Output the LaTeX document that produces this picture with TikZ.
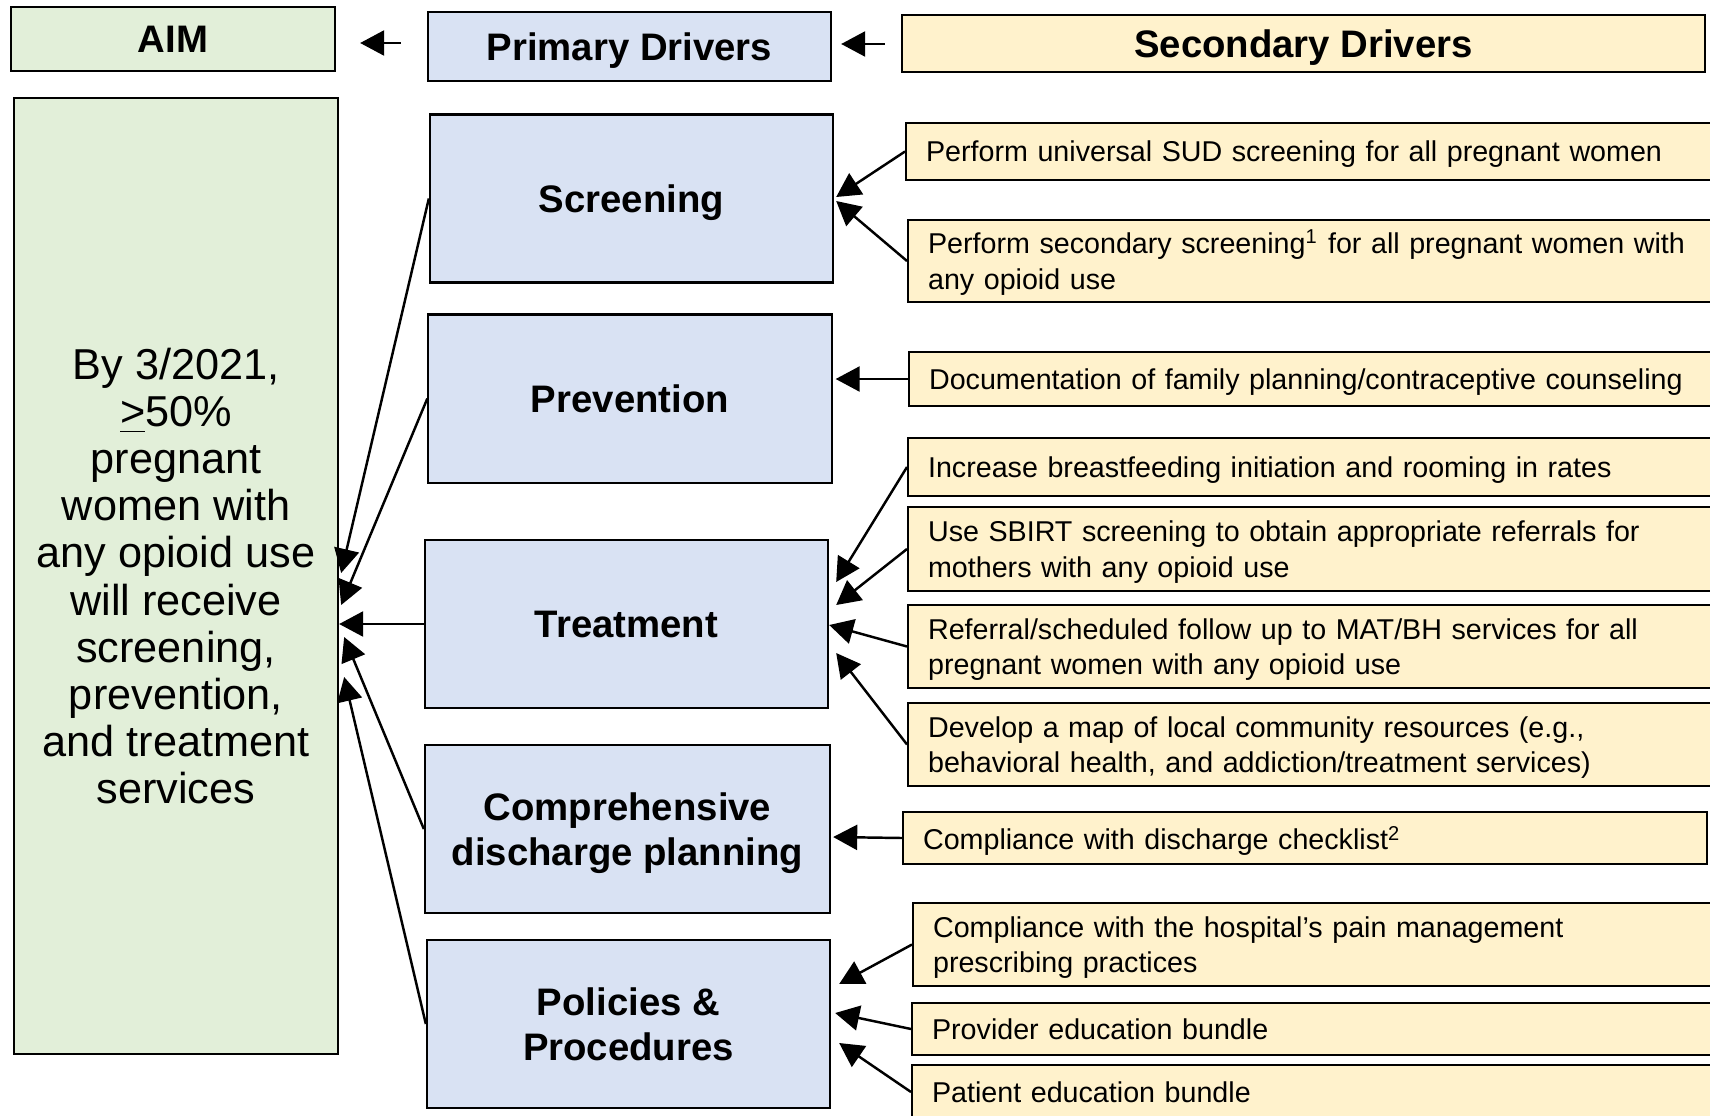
\documentclass[tikz,border=0pt]{standalone}
\usepackage{fontspec}
\setmainfont{Liberation Sans}
\usetikzlibrary{arrows.meta}

\definecolor{aimgreen}{HTML}{E2EFD9}
\definecolor{priblue}{HTML}{D9E2F3}
\definecolor{secyellow}{HTML}{FFF2CC}

\begin{document}
\begin{tikzpicture}[x=0.01cm, y=-0.01cm,
    box/.style={draw=black, line width=0.6pt, inner sep=0pt},
    headbox/.style={box, text depth=0pt, font=\fontsize{10.9}{13}\selectfont\bfseries},
    aimbox/.style={box, fill=aimgreen},
    pribox/.style={box, fill=priblue, minimum width=4.03cm, minimum height=1.68cm,
      text depth=0pt, align=center, font=\fontsize{10.9}{13}\selectfont\bfseries},
    secbox/.style={box, fill=secyellow, anchor=west, inner xsep=0.2cm,
      text width=7.75cm, align=left, font=\fontsize{8.15}{10.2}\selectfont},
    secline/.style={secbox, text depth=0pt},
    sectwo/.style={secbox, execute at begin node={\rule{0pt}{2.7mm}}},
    arr/.style={-{Triangle[length=0.24cm, width=0.25cm]}, line width=0.7pt}]
  \useasboundingbox (0,0) rectangle (1710,1115);

  % headers
  \node[headbox, aimbox, minimum width=3.24cm, minimum height=0.64cm] (aimhead) at (173,39) {AIM};
  \node[headbox, fill=priblue, minimum width=4.03cm, minimum height=0.69cm] (prihead) at (629.5,46.5) {Primary Drivers};
  \node[headbox, fill=secyellow, minimum width=8.03cm, minimum height=0.57cm] (sechead) at (1303.5,43.5) {Secondary Drivers};
  \draw[arr] ([shift={(-26,-3.5)}]prihead.west) -- ([shift={(24,4)}]aimhead.east);
  \draw[arr] ([shift={(-16,0.5)}]sechead.west) -- ([shift={(9,-2.5)}]prihead.east);

  % aim
  \node[aimbox, minimum width=3.24cm, minimum height=9.56cm, align=center,
    font=\fontsize{12.3}{13.4}\selectfont] (aim) at (176,576)
    {By 3/2021,\\ \underline{>}50\%\\ pregnant\\ women with\\ any opioid use\\ will receive\\ screening,\\ prevention,\\ and treatment\\ services};

  % primary drivers
  \node[pribox] (screen) at (631.5,198.5) {Screening};
  \node[pribox] (prev) at (630,398.5) {Prevention};
  \node[pribox] (treat) at (626.5,624) {Treatment};
  \node[pribox, minimum width=4.05cm] (comp) at (627.5,829) {Comprehensive\\ discharge planning};
  \node[pribox] (pol) at (628.5,1024) {Policies \&\\ Procedures};

  \foreach \p/\dx/\dy in {screen/2/-3, prev/2/29, treat/0/48, comp/5/61, pol/5/101}
    \draw[arr] (\p.west) -- ([shift={(\dx,\dy)}]aim.east);

  % secondary drivers
  \node[secline, minimum height=0.57cm] (s1) at (905,151.5) {Perform universal SUD screening for all pregnant women};
  \node[sectwo, minimum height=0.82cm] (s2) at (907,261) {Perform secondary screening\textsuperscript{1} for all pregnant women with\\ any opioid use};
  \node[secline, minimum height=0.54cm] (s3) at (908,379) {Documentation of family planning/contraceptive counseling};
  \node[secline, minimum height=0.58cm] (s4) at (907,467) {Increase breastfeeding initiation and rooming in rates};
  \node[sectwo, minimum height=0.84cm] (s5) at (907,549) {Use SBIRT screening to obtain appropriate referrals for\\ mothers with any opioid use};
  \node[sectwo, minimum height=0.83cm] (s6) at (907,646.5) {Referral/scheduled follow up to MAT/BH services for all\\ pregnant women with any opioid use};
  \node[sectwo, minimum height=0.83cm] (s7) at (907,744.5) {Develop a map of local community resources (e.g.,\\ behavioral health, and addiction/treatment services)};
  \node[secline, minimum height=0.52cm, text width=7.63cm] (s8) at (902,838) {Compliance with discharge checklist\textsuperscript{2}};
  \node[sectwo, minimum height=0.83cm] (s9) at (912,944.5) {Compliance with the hospital’s pain management\\ prescribing practices};
  \node[secline, minimum height=0.52cm] (s10) at (911,1029) {Provider education bundle};
  \node[secline, minimum height=0.54cm] (s11) at (911,1092) {Patient education bundle};

  \foreach \s/\p/\dx/\dy in {s1/screen/2/-1.5, s2/screen/2/2.5, s3/prev/3/-19.5,
      s4/treat/7/-42, s5/treat/7/-19, s6/treat/0/1, s7/treat/7/29,
      s8/comp/2/8, s9/pol/8/-40, s10/pol/4/-11, s11/pol/8/19}
    \draw[arr] (\s.west) -- ([shift={(\dx,\dy)}]\p.east);
\end{tikzpicture}
\end{document}
